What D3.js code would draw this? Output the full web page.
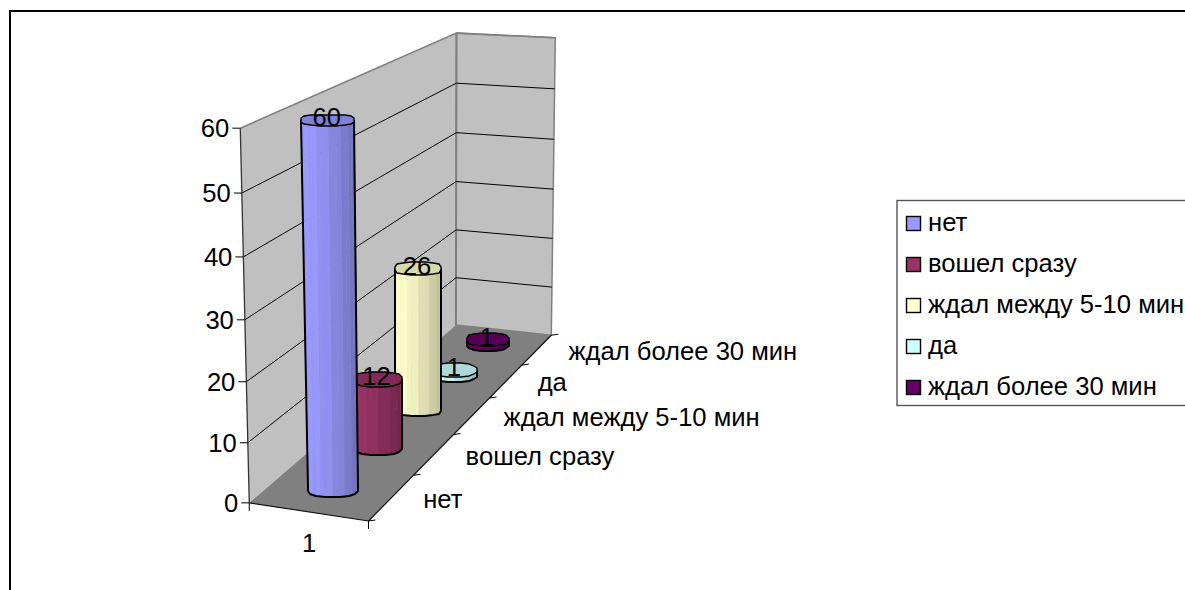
<!DOCTYPE html>
<html><head><meta charset="utf-8">
<script src="https://cdn.jsdelivr.net/npm/d3@7"></script>
<style>html,body{margin:0;padding:0;background:#fff}svg{display:block}text{font-family:"Liberation Sans",Arial,sans-serif;fill:#000}</style>
</head><body><svg id="chart" width="1185" height="590"></svg>
<script>
const categories = ["нет","вошел сразу","ждал между 5-10 мин","да","ждал более 30 мин"];
const values = [60,12,26,1,1];
const fills = ["#9999ff","#993366","#ffffcc","#ccffff","#660066"];
const valueTicks = [0,10,20,30,40,50,60];
const xLabels = ["1"];

const FONT = 25.6;
const svg = d3.select("#chart");

// Cube corners (unit coords x,y,z) and where the camera places them on screen.
const calibration = [
  [0,0,0,250,503],[0,1,0,240,128],[0,0,1,455,325],[0,1,1,457,33],
  [1,0,1,552,335],[1,1,1,555,38],[1,0,0,368,521]
];

// Least-squares fit of a projective camera to those correspondences.
function fitCamera(pts){
  const A=[],b=[];
  pts.forEach(([x,y,z,u,v])=>{
    A.push([x,y,z,1,0,0,0,0,-u*x,-u*y,-u*z]);b.push(u);
    A.push([0,0,0,0,x,y,z,1,-v*x,-v*y,-v*z]);b.push(v);
  });
  const n=11,M=d3.range(n).map(i=>d3.range(n+1).map(j=>{
    let s=0;A.forEach((r,k)=>{s+=r[i]*(j<n?r[j]:b[k]);});return s;}));
  for(let i=0;i<n;i++){
    let p=i;for(let r=i+1;r<n;r++)if(Math.abs(M[r][i])>Math.abs(M[p][i]))p=r;
    [M[i],M[p]]=[M[p],M[i]];
    for(let r=0;r<n;r++)if(r!==i){const f=M[r][i]/M[i][i];for(let c=i;c<=n;c++)M[r][c]-=f*M[i][c];}
  }
  return d3.range(n).map(i=>M[i][n]/M[i][i]);
}
const cam = fitCamera(calibration);
const project = (x,y,z)=>{
  const w=cam[8]*x+cam[9]*y+cam[10]*z+1;
  return [(cam[0]*x+cam[1]*y+cam[2]*z+cam[3])/w,(cam[4]*x+cam[5]*y+cam[6]*z+cam[7])/w];
};

const yScale = d3.scaleLinear().domain([0,60]).range([0,1]);
const zScale = d3.scaleBand().domain(categories).range([0,1]);
const zEdge = i=>i/categories.length;
const xCenter = 0.5;

const poly = pts=>pts.map(p=>p.map(v=>v.toFixed(1)).join(",")).join(" ");
const line = (g,a,b,stroke,w)=>g.append("line").attr("x1",a[0]).attr("y1",a[1]).attr("x2",b[0]).attr("y2",b[1]).attr("stroke",stroke).attr("stroke-width",w);

// Chart frame
svg.append("path").attr("d","M10,590V11H1185").attr("fill","none").attr("stroke","#000").attr("stroke-width",2);

const plot = svg.append("g");
// Walls and floor
plot.append("polygon").attr("points",poly([project(0,0,0),project(0,1,0),project(0,1,1),project(0,0,1)])).attr("fill","#c0c0c0");
plot.append("polygon").attr("points",poly([project(0,0,1),project(0,1,1),project(1,1,1),project(1,0,1)])).attr("fill","#c0c0c0").attr("stroke","#808080").attr("stroke-width",1.5);
plot.append("polyline").attr("points",poly([project(0,1,0),project(0,1,1),project(1,1,1)])).attr("fill","none").attr("stroke","#808080").attr("stroke-width",1.6);
plot.append("line").attr("x1",project(0,0,1)[0]).attr("y1",project(0,0,1)[1]).attr("x2",project(0,1,1)[0]).attr("y2",project(0,1,1)[1]).attr("stroke","#808080").attr("stroke-width",2);
plot.append("polygon").attr("points",poly([project(0,0,0),project(0,0,1),project(1,0,1),project(1,0,0)])).attr("fill","#808080");

// Horizontal gridlines on both walls
valueTicks.filter(d=>d>0&&d<60).forEach(d=>{
  const y=yScale(d);
  line(plot,project(0,y,0),project(0,y,1),"#000",1);
  line(plot,project(0,y,1),project(1,y,1),"#000",1);
});

// Axis lines and ticks
line(plot,project(0,0,0),project(0,1,0),"#333",1.3);
line(plot,project(0,0,0),project(1,0,0),"#111",1.2);
line(plot,project(1,0,0),project(1,0,1),"#111",1.2);
valueTicks.forEach(d=>{
  const p=project(0,yScale(d),0);
  line(plot,[p[0]-8,p[1]],p,"#000",1);
  plot.append("text").attr("x",p[0]-11).attr("y",p[1]).attr("dy","0.36em").attr("text-anchor","end").attr("font-size",FONT).text(d);
});
[0,1].forEach(x=>{
  const p=project(x,0,0);
  line(plot,p,[p[0],p[1]+8],"#000",1);
});
d3.range(categories.length+1).forEach(i=>{
  const p=project(1,0,zEdge(i));
  line(plot,p,[p[0]+7,p[1]-1],"#000",1);
});
categories.forEach((c,i)=>{
  const p=project(1,0,zScale(c)+zScale.bandwidth()/2);
  plot.append("text").attr("x",p[0]+31.5).attr("y",p[1]+1).attr("dy","0.36em").attr("font-size",FONT).text(c);
});
const mid=project(0.5,0,0);
plot.append("text").attr("x",mid[0]+1).attr("y",mid[1]+31).attr("dy","0.36em").attr("text-anchor","middle").attr("font-size",FONT).text(xLabels[0]);

// Cylinders, back to front so nearer columns overlap farther ones
const FACETS=16, STRIPS=2;
const shadeOf=t=>1.0-0.28*Math.pow(t,1.4);
// Faceted rim: a slightly boxy ellipse snapped to whole pixels
const rim=(c,rx,ry)=>d3.range(FACETS).map(k=>{
  const a=2*Math.PI*k/FACETS+Math.PI/FACETS;
  const ca=Math.cos(a),sa=Math.sin(a);
  const px=Math.sign(ca)*Math.pow(Math.abs(ca),0.75), py=Math.sign(sa)*Math.pow(Math.abs(sa),0.75);
  return [Math.round(c[0]+rx*px),Math.round(c[1]+ry*py)];
});
const ellipseAt=(x,y,z)=>{
  const dx=0.22,dz=0.03;
  const c=project(x,y,z);
  const rx=Math.abs(project(x+dx,y,z)[0]-project(x-dx,y,z)[0])/2;
  const ry=Math.abs(project(x,y,z+dz)[1]-project(x,y,z-dz)[1])/2+2;
  return {c,rx,ry};
};
const labels=[];
d3.range(categories.length).reverse().forEach(i=>{
  const z=zScale(categories[i])+zScale.bandwidth()/2;
  const base=ellipseAt(xCenter,0,z), top=ellipseAt(xCenter,yScale(values[i]),z);
  const col=d3.rgb(fills[i]);
  const tint=s=>d3.rgb(col.r*s,col.g*s,col.b*s).formatHex();
  const g=plot.append("g");
  const B=rim(base.c,base.rx,base.ry),T=rim(top.c,top.rx,top.ry);
  const halfB=[[B[FACETS-1][0],base.c[1]],...d3.range(FACETS/2).map(k=>B[k]),[B[FACETS/2][0],base.c[1]]];
  const halfT=[[T[FACETS-1][0],top.c[1]],...d3.range(FACETS/2).map(k=>T[k]),[T[FACETS/2][0],top.c[1]]];
  // Side surface: flat vertical strips, each facet split into a couple of shades
  d3.range(halfB.length-1).forEach(k=>{
    d3.range(STRIPS).forEach(s=>{
      const mix=(a,b,t)=>[a[0]+(b[0]-a[0])*t,a[1]+(b[1]-a[1])*t];
      const t0=s/STRIPS,t1=(s+1)/STRIPS;
      const b0=mix(halfB[k],halfB[k+1],t0),b1=mix(halfB[k],halfB[k+1],t1);
      const t0p=mix(halfT[k],halfT[k+1],t0),t1p=mix(halfT[k],halfT[k+1],t1);
      const u=((b0[0]+b1[0])/2-(base.c[0]-base.rx))/(2*base.rx);
      const f=tint(Math.min(1,shadeOf(u)+(s%2?0.025:0)));
      g.append("polygon").attr("points",poly([b0,b1,t1p,t0p])).attr("fill",f).attr("stroke",f).attr("stroke-width",0.5);
    });
  });
  // Silhouette down one side, around the base rim and back up
  const sil=[halfT[0],halfB[0],...d3.range(FACETS/2).map(k=>B[k]),halfB[halfB.length-1],halfT[halfT.length-1]];
  g.append("polyline").attr("points",poly(sil)).attr("fill","none").attr("stroke","#000").attr("stroke-width",2).attr("stroke-linejoin","round");
  g.append("polygon").attr("points",poly(T)).attr("fill",tint(0.85)).attr("stroke","#000").attr("stroke-width",1.4);
  labels[i]={p:top.c,v:values[i]};
});
labels.forEach(l=>{
  plot.append("text").attr("x",l.p[0]-1).attr("y",l.p[1]-3).attr("dy","0.36em").attr("text-anchor","middle").attr("font-size",FONT).text(l.v);
});

// Legend
const legend=svg.append("g");
legend.append("rect").attr("x",897).attr("y",200.5).attr("width",289).attr("height",205).attr("fill","#fff").attr("stroke","#555").attr("stroke-width",1.4);
const rowY=d3.scalePoint().domain(categories).range([222,386]);
categories.forEach((c,i)=>{
  const y=rowY(c);
  legend.append("rect").attr("x",906.5).attr("y",y-5.5).attr("width",14).attr("height",14).attr("fill",fills[i]).attr("stroke","#000").attr("stroke-width",1.4);
  legend.append("text").attr("x",928).attr("y",y).attr("dy","0.36em").attr("font-size",FONT).text(c);
});
</script></body></html>
